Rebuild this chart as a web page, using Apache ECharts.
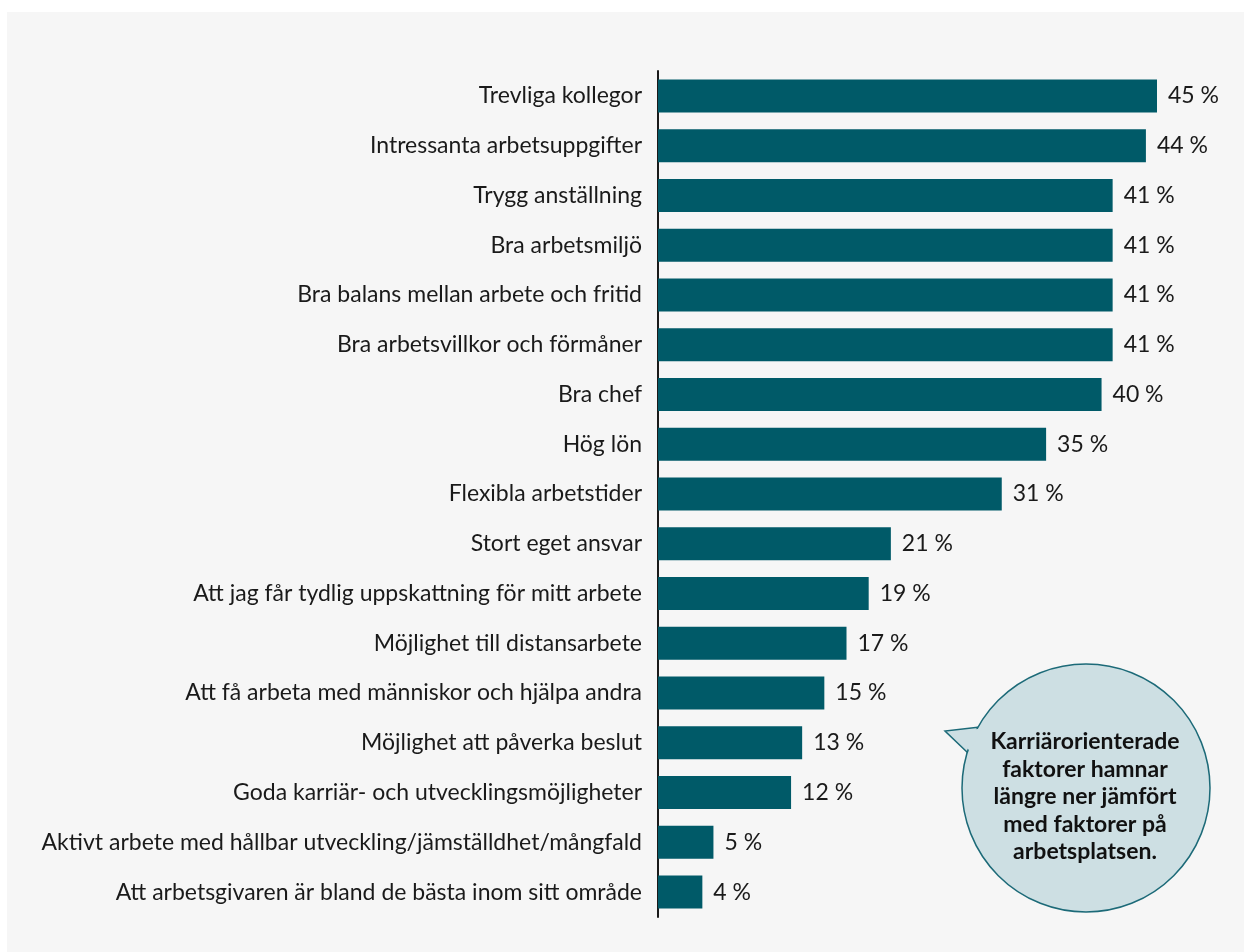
<!DOCTYPE html>
<html><head><meta charset="utf-8">
<script src="https://cdn.jsdelivr.net/npm/echarts@6/dist/echarts.min.js"></script>
<style>
html,body{margin:0;padding:0;background:#ffffff;}
#bg{position:absolute;left:7px;top:12px;width:1237px;height:940px;background:#f6f6f6;}
#chart{position:absolute;left:0;top:0;width:1244px;height:952px;}
</style></head>
<body><div id="bg"></div><div id="chart"></div>
<script>
const categories = [
  "Trevliga kollegor",
  "Intressanta arbetsuppgifter",
  "Trygg anställning",
  "Bra arbetsmiljö",
  "Bra balans mellan arbete och fritid",
  "Bra arbetsvillkor och förmåner",
  "Bra chef",
  "Hög lön",
  "Flexibla arbetstider",
  "Stort eget ansvar",
  "Att jag får tydlig uppskattning för mitt arbete",
  "Möjlighet till distansarbete",
  "Att få arbeta med människor och hjälpa andra",
  "Möjlighet att påverka beslut",
  "Goda karriär- och utvecklingsmöjligheter",
  "Aktivt arbete med hållbar utveckling/jämställdhet/mångfald",
  "Att arbetsgivaren är bland de bästa inom sitt område"
];
const values = [45, 44, 41, 41, 41, 41, 40, 35, 31, 21, 19, 17, 15, 13, 12, 5, 4];
const bubbleLines = ["Karriärorienterade", "faktorer hamnar", "längre ner jämfört", "med faktorer på", "arbetsplatsen."];

const chart = echarts.init(document.getElementById('chart'), null, {renderer: 'canvas'});
const font = 'Lato, "Noto Sans", sans-serif';
chart.setOption({
  backgroundColor: 'transparent',
  animation: false,
  grid: {left: 658, top: 71, width: 499, height: 846, containLabel: false},
  xAxis: {type: 'value', min: 0, max: 45, show: false},
  yAxis: {
    type: 'category', data: categories, inverse: true,
    axisLine: {show: true, lineStyle: {color: '#1a1a1a', width: 2}},
    axisTick: {show: false},
    axisLabel: {color: '#1a1a1a', fontSize: 23, fontFamily: font, margin: 16}
  },
  series: [{
    type: 'bar', data: values, barWidth: 33,
    itemStyle: {color: '#005a68'},
    label: {show: true, position: 'right', distance: 11, formatter: '{c} %',
      color: '#1a1a1a', fontSize: 23, fontFamily: font}
  }],
  graphic: [
    {type: 'polygon', z: 10, shape: {points: [[980, 727], [945, 731], [968, 753]]},
      style: {fill: '#cddfe3', stroke: '#1c6a78', lineWidth: 1.5}},
    {type: 'circle', z: 11, shape: {cx: 1086, cy: 788, r: 124},
      style: {fill: '#cddfe3', stroke: '#1c6a78', lineWidth: 1.5}},
    {type: 'polygon', z: 12, shape: {points: [[982, 728.5], [950, 732], [970, 751]]},
      style: {fill: '#cddfe3'}},
    {type: 'text', z: 13, x: 1085, y: 797,
      style: {text: bubbleLines.join('\n'), fill: '#111111', font: 'bold 23px Lato, "Noto Sans", sans-serif',
        align: 'center', verticalAlign: 'middle', lineHeight: 27.5}}
  ]
});
</script></body></html>
